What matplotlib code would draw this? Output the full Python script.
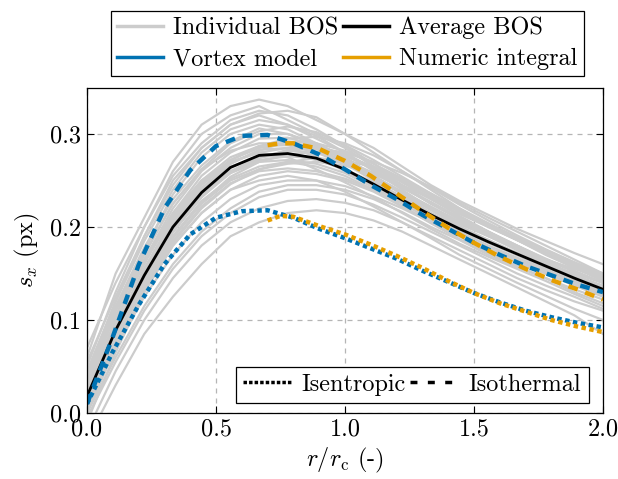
import numpy as np
import matplotlib
matplotlib.use("Agg")
import matplotlib.pyplot as plt
from matplotlib.lines import Line2D

plt.rcParams.update({
    "font.family": "serif",
    "font.serif": ["cmr10"],
    "mathtext.fontset": "cm",
    "axes.formatter.use_mathtext": True,
    "font.size": 17.5,
    "axes.unicode_minus": False,
})

# ---------------- data ----------------
r_bos = [0.0, 0.111, 0.222, 0.333, 0.444, 0.556, 0.667, 0.778, 0.889, 1.0,
         1.111, 1.222, 1.333, 1.444, 1.556, 1.667, 1.778, 1.889, 2.0]

individual_bos = [
    [0.06, 0.15, 0.21, 0.27, 0.31, 0.33, 0.337, 0.33, 0.315, 0.30, 0.285, 0.265, 0.245, 0.228, 0.213, 0.198, 0.185, 0.172, 0.16],
    [0.05, 0.13, 0.20, 0.26, 0.30, 0.32, 0.33, 0.315, 0.30, 0.285, 0.265, 0.245, 0.225, 0.21, 0.195, 0.18, 0.165, 0.155, 0.145],
    [0.04, 0.12, 0.19, 0.25, 0.285, 0.31, 0.32, 0.31, 0.295, 0.28, 0.26, 0.24, 0.22, 0.205, 0.19, 0.175, 0.16, 0.15, 0.14],
    [0.03, 0.11, 0.175, 0.235, 0.275, 0.30, 0.31, 0.305, 0.29, 0.275, 0.255, 0.235, 0.22, 0.20, 0.185, 0.172, 0.16, 0.147, 0.135],
    [0.02, 0.10, 0.165, 0.22, 0.26, 0.285, 0.30, 0.30, 0.29, 0.275, 0.255, 0.235, 0.215, 0.20, 0.185, 0.17, 0.155, 0.14, 0.13],
    [0.035, 0.105, 0.17, 0.225, 0.262, 0.282, 0.29, 0.29, 0.284, 0.27, 0.252, 0.236, 0.22, 0.203, 0.19, 0.178, 0.165, 0.152, 0.14],
    [0.01, 0.09, 0.155, 0.21, 0.25, 0.275, 0.287, 0.288, 0.28, 0.268, 0.25, 0.232, 0.215, 0.198, 0.183, 0.17, 0.157, 0.144, 0.132],
    [0.025, 0.095, 0.155, 0.205, 0.24, 0.265, 0.275, 0.278, 0.272, 0.262, 0.248, 0.232, 0.214, 0.199, 0.186, 0.172, 0.16, 0.148, 0.137],
    [0.015, 0.085, 0.145, 0.198, 0.235, 0.258, 0.27, 0.272, 0.268, 0.258, 0.243, 0.226, 0.21, 0.195, 0.18, 0.167, 0.154, 0.142, 0.13],
    [0.0, 0.075, 0.14, 0.19, 0.228, 0.252, 0.265, 0.27, 0.265, 0.255, 0.24, 0.225, 0.208, 0.192, 0.178, 0.165, 0.152, 0.14, 0.128],
    [0.02, 0.08, 0.135, 0.185, 0.222, 0.247, 0.26, 0.263, 0.26, 0.252, 0.24, 0.226, 0.211, 0.197, 0.183, 0.17, 0.158, 0.147, 0.136],
    [-0.01, 0.065, 0.13, 0.18, 0.215, 0.24, 0.255, 0.26, 0.257, 0.25, 0.238, 0.222, 0.206, 0.19, 0.175, 0.162, 0.15, 0.137, 0.125],
    [0.01, 0.07, 0.125, 0.17, 0.205, 0.23, 0.245, 0.25, 0.25, 0.244, 0.233, 0.22, 0.205, 0.19, 0.176, 0.163, 0.15, 0.138, 0.127],
    [0.0, 0.06, 0.115, 0.16, 0.195, 0.22, 0.238, 0.245, 0.245, 0.24, 0.23, 0.216, 0.2, 0.186, 0.17, 0.157, 0.145, 0.133, 0.122],
    [-0.02, 0.045, 0.1, 0.145, 0.18, 0.205, 0.22, 0.228, 0.23, 0.226, 0.218, 0.205, 0.19, 0.175, 0.16, 0.145, 0.132, 0.12, 0.11],
    [-0.03, 0.03, 0.085, 0.125, 0.16, 0.19, 0.205, 0.215, 0.218, 0.215, 0.207, 0.195, 0.18, 0.165, 0.15, 0.135, 0.12, 0.105, 0.085],
    [0.07, 0.14, 0.2, 0.255, 0.29, 0.315, 0.325, 0.32, 0.305, 0.287, 0.268, 0.248, 0.23, 0.212, 0.195, 0.178, 0.162, 0.148, 0.135],
    [0.045, 0.12, 0.185, 0.24, 0.28, 0.305, 0.315, 0.31, 0.298, 0.28, 0.262, 0.243, 0.225, 0.208, 0.192, 0.176, 0.16, 0.145, 0.132],
    [0.03, 0.1, 0.16, 0.215, 0.255, 0.28, 0.295, 0.296, 0.288, 0.272, 0.255, 0.238, 0.222, 0.206, 0.192, 0.178, 0.163, 0.148, 0.135],
    [0.005, 0.08, 0.14, 0.195, 0.232, 0.26, 0.275, 0.282, 0.28, 0.272, 0.258, 0.242, 0.226, 0.21, 0.195, 0.18, 0.166, 0.153, 0.14],
    [0.01, 0.085, 0.15, 0.2, 0.24, 0.268, 0.283, 0.285, 0.276, 0.26, 0.242, 0.222, 0.204, 0.187, 0.172, 0.158, 0.145, 0.13, 0.118],
    [0.02, 0.09, 0.15, 0.205, 0.245, 0.27, 0.28, 0.275, 0.262, 0.248, 0.232, 0.215, 0.198, 0.182, 0.168, 0.155, 0.142, 0.128, 0.115],
    [0.0, 0.07, 0.13, 0.18, 0.215, 0.24, 0.25, 0.255, 0.25, 0.238, 0.222, 0.205, 0.188, 0.17, 0.155, 0.14, 0.126, 0.112, 0.1],
    [0.04, 0.11, 0.165, 0.215, 0.25, 0.27, 0.28, 0.285, 0.285, 0.28, 0.27, 0.258, 0.243, 0.226, 0.21, 0.195, 0.18, 0.165, 0.15],
    [0.03, 0.095, 0.15, 0.2, 0.235, 0.26, 0.272, 0.276, 0.274, 0.268, 0.258, 0.245, 0.23, 0.214, 0.2, 0.186, 0.172, 0.16, 0.148],
    [0.055, 0.125, 0.19, 0.245, 0.285, 0.31, 0.322, 0.325, 0.318, 0.3, 0.28, 0.26, 0.24, 0.22, 0.202, 0.186, 0.17, 0.156, 0.142],
    [0.015, 0.08, 0.14, 0.19, 0.225, 0.25, 0.262, 0.268, 0.27, 0.266, 0.257, 0.243, 0.227, 0.21, 0.194, 0.18, 0.165, 0.152, 0.14],
    [-0.005, 0.055, 0.11, 0.155, 0.19, 0.215, 0.232, 0.24, 0.24, 0.235, 0.224, 0.21, 0.195, 0.18, 0.165, 0.15, 0.137, 0.125, 0.112],
    [0.028, 0.1, 0.162, 0.212, 0.248, 0.272, 0.285, 0.29, 0.287, 0.278, 0.264, 0.248, 0.232, 0.216, 0.2, 0.186, 0.172, 0.158, 0.145],
    [0.012, 0.088, 0.152, 0.203, 0.242, 0.268, 0.282, 0.292, 0.29, 0.282, 0.268, 0.252, 0.235, 0.218, 0.202, 0.187, 0.173, 0.16, 0.147],
    [0.038, 0.112, 0.172, 0.225, 0.262, 0.29, 0.303, 0.308, 0.302, 0.288, 0.272, 0.254, 0.236, 0.218, 0.202, 0.187, 0.172, 0.158, 0.144],
    [0.022, 0.092, 0.155, 0.208, 0.246, 0.272, 0.287, 0.295, 0.297, 0.29, 0.277, 0.26, 0.242, 0.224, 0.207, 0.191, 0.176, 0.162, 0.148],
    [0.008, 0.078, 0.138, 0.188, 0.226, 0.254, 0.27, 0.278, 0.281, 0.276, 0.265, 0.25, 0.234, 0.217, 0.201, 0.186, 0.171, 0.157, 0.143],
    [0.018, 0.086, 0.142, 0.194, 0.232, 0.258, 0.274, 0.283, 0.284, 0.277, 0.262, 0.244, 0.226, 0.209, 0.193, 0.178, 0.163, 0.149, 0.136],
    [0.042, 0.115, 0.178, 0.23, 0.266, 0.292, 0.306, 0.3, 0.288, 0.272, 0.254, 0.236, 0.218, 0.201, 0.186, 0.172, 0.158, 0.146, 0.134],
    [0.005, 0.072, 0.132, 0.183, 0.22, 0.246, 0.262, 0.27, 0.274, 0.272, 0.264, 0.251, 0.236, 0.22, 0.204, 0.189, 0.175, 0.162, 0.15],
]

average_bos = [0.018, 0.089, 0.148, 0.200, 0.237, 0.264, 0.277, 0.279, 0.274, 0.262,
               0.246, 0.229, 0.213, 0.198, 0.184, 0.171, 0.158, 0.145, 0.133]

r_vortex = [0.0, 0.1, 0.2, 0.3, 0.4, 0.5, 0.6, 0.7, 0.8, 0.9, 1.0,
            1.1, 1.2, 1.3, 1.4, 1.5, 1.6, 1.7, 1.8, 1.9, 2.0]
vortex_isothermal = [0.010, 0.082, 0.159, 0.220, 0.261, 0.287, 0.298, 0.299, 0.290, 0.278, 0.262,
                     0.245, 0.230, 0.213, 0.198, 0.183, 0.170, 0.158, 0.148, 0.138, 0.130]
vortex_isentropic = [0.010, 0.066, 0.116, 0.160, 0.192, 0.210, 0.217, 0.218, 0.210, 0.198, 0.188,
                     0.177, 0.166, 0.153, 0.141, 0.129, 0.119, 0.110, 0.103, 0.097, 0.092]

r_numeric = [0.7, 0.75, 0.8, 0.9, 1.0, 1.1, 1.2, 1.3, 1.4, 1.5, 1.6, 1.7, 1.8, 1.9, 2.0]
numeric_isothermal = [0.288, 0.290, 0.290, 0.284, 0.271, 0.255, 0.236, 0.217, 0.199, 0.183,
                      0.168, 0.155, 0.143, 0.133, 0.122]
numeric_isentropic = [0.207, 0.212, 0.211, 0.201, 0.192, 0.181, 0.169, 0.156, 0.142, 0.129,
                      0.118, 0.109, 0.100, 0.093, 0.087]

xticks = [0.0, 0.5, 1.0, 1.5, 2.0]
yticks = [0.0, 0.1, 0.2, 0.3]

# ---------------- style ----------------
gray = "#cccccc"
blue = "#0072B2"
orange = "#E69F00"
dotted = (0, (1.0, 0.8))
dashed = (0, (2.2, 1.8))

fig = plt.figure(figsize=(6.18, 4.79), dpi=100)
ax = fig.add_axes([87 / 618, 1 - 413 / 479, 516 / 618, 325.5 / 479])

for curve in individual_bos:
    ax.plot(r_bos, curve, color=gray, lw=1.6, zorder=2)
ax.plot(r_bos, average_bos, color="black", lw=2.0, zorder=4)
ax.plot(r_vortex, vortex_isothermal, color=blue, lw=3.2, ls=dashed, zorder=5)
ax.plot(r_vortex, vortex_isentropic, color=blue, lw=3.2, ls=dotted, zorder=5)
ax.plot(r_numeric, numeric_isothermal, color=orange, lw=3.2, ls=dashed, zorder=6)
ax.plot(r_numeric, numeric_isentropic, color=orange, lw=3.2, ls=dotted, zorder=6)

ax.set_xlim(0, 2.0)
ax.set_ylim(0, 0.35)
ax.set_xticks(xticks)
ax.set_yticks(yticks)
ax.xaxis.set_major_formatter(matplotlib.ticker.FormatStrFormatter("%.1f"))
ax.yaxis.set_major_formatter(matplotlib.ticker.FormatStrFormatter("%.1f"))
ax.tick_params(direction="in", top=True, right=True, length=5, width=0.8, labelsize=17.5,
               pad=4)
ax.grid(True, color="#b5b5b5", ls=(0, (4, 4)), lw=0.9, zorder=0)
ax.set_axisbelow(True)
for s in ax.spines.values():
    s.set_linewidth(0.9)
    s.set_zorder(10)

ax.set_xlabel(r"$r/r_{\mathrm{c}}$ (-)", fontsize=17.5, labelpad=4)
ax.set_ylabel(r"$s_x$ (px)", fontsize=17.5, labelpad=6)

# top legend
top_handles = [
    Line2D([], [], color=gray, lw=2.5),
    Line2D([], [], color="black", lw=2.5),
    Line2D([], [], color=blue, lw=2.5),
    Line2D([], [], color=orange, lw=2.5),
]
top_labels = ["Individual BOS", "Average BOS", "Vortex model", "Numeric integral"]
order = [0, 2, 1, 3]
leg1 = fig.legend([top_handles[i] for i in order], [top_labels[i] for i in order],
                  loc="upper center", bbox_to_anchor=(0.562, 0.978), ncol=2,
                  frameon=True, fancybox=False, edgecolor="black", framealpha=1,
                  fontsize=17.5, handlelength=1.9, columnspacing=0.2, handletextpad=0.4,
                  borderpad=0.25, labelspacing=0.37, borderaxespad=0)
leg1.get_frame().set_linewidth(0.9)

# line-style legend
style_handles = [
    Line2D([], [], color="black", lw=2.5, ls=(0, (1.0, 0.6))),
    Line2D([], [], color="black", lw=2.5, ls=(0, (2.0, 3.0))),
]
leg2 = ax.legend(style_handles, ["Isentropic", "Isothermal"], loc="lower right",
                 bbox_to_anchor=(0.972, 0.03), ncol=2, frameon=True, fancybox=False,
                 edgecolor="black", framealpha=1, fontsize=17.5, handlelength=2.0,
                 columnspacing=0.2, handletextpad=0.4, borderpad=0.3, borderaxespad=0)
leg2.get_frame().set_linewidth(0.9)
leg2.set_zorder(20)

fig.savefig("out.png", dpi=100)
